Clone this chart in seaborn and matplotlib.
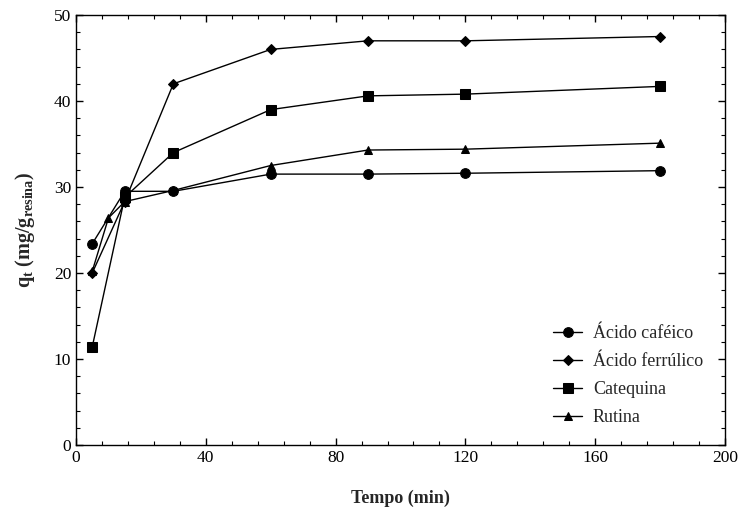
import matplotlib
matplotlib.use("Agg")
import matplotlib.pyplot as plt
import seaborn as sns
import pandas as pd
from matplotlib.ticker import MultipleLocator

# Data
t_cafeico = [5, 15, 30, 60, 90, 120, 180]
q_cafeico = [23.4, 29.5, 29.5, 31.5, 31.5, 31.6, 31.9]
t_ferrulico = [5, 15, 30, 60, 90, 120, 180]
q_ferrulico = [20.0, 28.3, 42.0, 46.0, 47.0, 47.0, 47.5]
t_catequina = [5, 15, 30, 60, 90, 120, 180]
q_catequina = [11.4, 28.8, 34.0, 39.0, 40.6, 40.8, 41.7]
t_rutina = [5, 10, 15, 30, 60, 90, 120, 180]
q_rutina = [20.2, 26.4, 28.3, 29.6, 32.5, 34.3, 34.4, 35.1]
series_names = ["Ácido caféico", "Ácido ferrúlico", "Catequina", "Rutina"]

rows = []
for name, ts, qs in zip(series_names,
                        [t_cafeico, t_ferrulico, t_catequina, t_rutina],
                        [q_cafeico, q_ferrulico, q_catequina, q_rutina]):
    for t, q in zip(ts, qs):
        rows.append({"t": t, "q": q, "serie": name})
df = pd.DataFrame(rows)

sns.set_theme(style="white")
plt.rcParams["font.family"] = ["Liberation Serif", "DejaVu Serif"]
plt.rcParams["mathtext.fontset"] = "custom"
plt.rcParams["mathtext.rm"] = "Liberation Serif"
plt.rcParams["mathtext.bf"] = "Liberation Serif:bold"

fig = plt.figure(figsize=(7.43, 5.16), dpi=100)
ax = fig.add_axes([0.1023, 0.1376, 0.8735, 0.8333])

markers = {"Ácido caféico": "o", "Ácido ferrúlico": "D",
           "Catequina": "s", "Rutina": "^"}
sizes = {"Ácido caféico": 7, "Ácido ferrúlico": 5, "Catequina": 6.5, "Rutina": 6}

for name in series_names:
    sub = df[df["serie"] == name]
    sns.lineplot(data=sub, x="t", y="q", ax=ax, color="black", linewidth=1.0,
                 marker=markers[name], markersize=sizes[name],
                 markeredgecolor="black", markerfacecolor="black",
                 label=name, estimator=None, sort=False)

ax.set_xlim(0, 200)
ax.set_ylim(0, 50)
ax.xaxis.set_major_locator(MultipleLocator(40))
ax.xaxis.set_minor_locator(MultipleLocator(8))
ax.yaxis.set_major_locator(MultipleLocator(10))
ax.yaxis.set_minor_locator(MultipleLocator(2))
ax.tick_params(which="both", direction="in", top=True, right=True,
               bottom=True, left=True, colors="black", labelsize=12.5)
ax.tick_params(which="major", length=5, width=1)
ax.tick_params(which="minor", length=3, width=0.8)
for sp in ax.spines.values():
    sp.set_color("black")
    sp.set_linewidth(1.0)

ax.set_xlabel("Tempo (min)", fontsize=13, fontweight="bold", labelpad=17)
ax.set_ylabel(r"q$_\mathregular{t}$ (mg/g$_\mathregular{resina}$)", fontsize=14.5,
              fontweight="bold", labelpad=12)

leg = ax.legend(loc="upper left", bbox_to_anchor=(0.71, 0.316), frameon=False,
                fontsize=13, handlelength=1.6, labelspacing=0.6,
                handletextpad=0.6)

fig.savefig("out.png", dpi=100, facecolor="white")
